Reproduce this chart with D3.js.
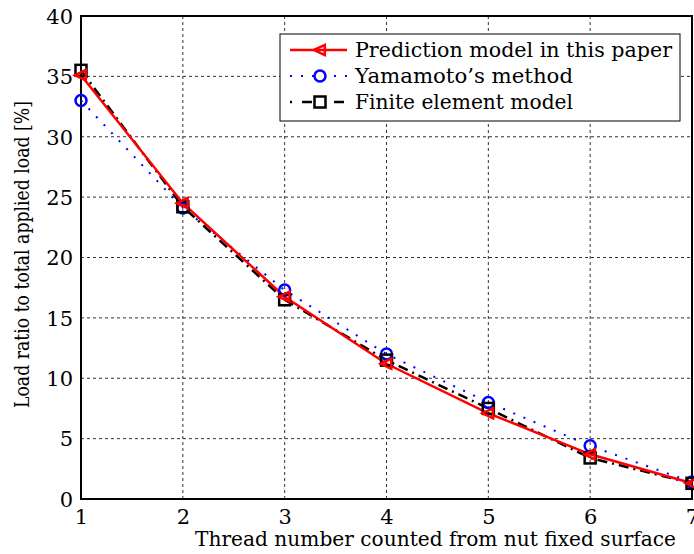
<!DOCTYPE html>
<html><head><meta charset="utf-8">
<script src="https://cdn.jsdelivr.net/npm/d3@7"></script>
<style>body{margin:0;background:#fff}svg{display:block}text{font-family:"DejaVu Serif","Liberation Serif",serif}</style>
</head><body>
<script>
const threads = [1, 2, 3, 4, 5, 6, 7];
const prediction = [35.1, 24.5, 16.75, 11.2, 7.1, 3.7, 1.3];
const yamamoto = [33.0, 24.1, 17.3, 12.0, 8.0, 4.4, 1.4];
const finiteElement = [35.5, 24.2, 16.5, 11.5, 7.5, 3.4, 1.3];
const xTicks = [1, 2, 3, 4, 5, 6, 7];
const yTicks = [0, 5, 10, 15, 20, 25, 30, 35, 40];
const seriesNames = ["Prediction model in this paper", "Yamamoto\u2019s method", "Finite element model"];

const W = 694, H = 554;
const L = 81, R = 692, T = 16, B = 499;
const svg = d3.select("body").append("svg").attr("width", W).attr("height", H);
const x = d3.scaleLinear().domain([1, 7]).range([L, R]);
const y = d3.scaleLinear().domain([0, 40]).range([B, T]);

function fitLen(sel, target) {
  sel.attr("textLength", target).attr("lengthAdjust", "spacingAndGlyphs");
}

// grid
const g = svg.append("g");
g.selectAll(".gx").data(xTicks.slice(1, -1)).join("line")
  .attr("x1", d => x(d)).attr("x2", d => x(d)).attr("y1", T).attr("y2", B)
  .attr("stroke", "#333").attr("stroke-width", 1).attr("stroke-dasharray", "3,3");
g.selectAll(".gy").data(yTicks.slice(1, -1)).join("line")
  .attr("y1", d => y(d)).attr("y2", d => y(d)).attr("x1", L).attr("x2", R)
  .attr("stroke", "#333").attr("stroke-width", 1).attr("stroke-dasharray", "3,3");

// axes via d3
const xAxis = svg.append("g").attr("transform", `translate(0,${B})`)
  .call(d3.axisBottom(x).tickValues(xTicks).tickSize(0).tickPadding(10).tickFormat(d3.format("d")));
const yAxis = svg.append("g").attr("transform", `translate(${L},0)`)
  .call(d3.axisLeft(y).tickValues(yTicks).tickSize(0).tickPadding(8).tickFormat(d3.format("d")));
[xAxis, yAxis].forEach(a => {
  a.attr("font-family", null);
  a.select(".domain").remove();
  a.selectAll("text").attr("font-size", 21).attr("fill", "#000");
});
yAxis.selectAll("text").attr("dy", "0.35em");
xAxis.selectAll("text").attr("dy", "0.71em");

// frame
svg.append("rect").attr("x", L).attr("y", T).attr("width", R - L).attr("height", B - T)
  .attr("fill", "none").attr("stroke", "#000").attr("stroke-width", 2);

// lines
const line = d3.line().x((d, i) => x(threads[i])).y(d => y(d));
const lines = svg.append("g");
lines.append("path").datum(yamamoto).attr("d", line).attr("fill", "none")
  .attr("stroke", "#0000ff").attr("stroke-width", 2).attr("stroke-dasharray", "2,9");
lines.append("path").datum(finiteElement).attr("d", line).attr("fill", "none")
  .attr("stroke", "#000").attr("stroke-width", 2.5).attr("stroke-dasharray", "10,5,2,5");
lines.append("path").datum(prediction).attr("d", line).attr("fill", "none")
  .attr("stroke", "#ff0000").attr("stroke-width", 2.5);

function tri(s, cx, cy, r) {
  return s.append("path").attr("d", `M${cx - r},${cy} L${cx + r * 0.8},${cy - r * 0.85} L${cx + r * 0.8},${cy + r * 0.85} Z`)
    .attr("fill", "none").attr("stroke", "#ff0000").attr("stroke-width", 2.5);
}
function circ(s, cx, cy, r) {
  return s.append("circle").attr("cx", cx).attr("cy", cy).attr("r", r)
    .attr("fill", "none").attr("stroke", "#0000ff").attr("stroke-width", 2.5);
}
function sq(s, cx, cy, r) {
  return s.append("rect").attr("x", cx - r).attr("y", cy - r).attr("width", 2 * r).attr("height", 2 * r)
    .attr("fill", "none").attr("stroke", "#000").attr("stroke-width", 2.5);
}
const marks = svg.append("g");
yamamoto.forEach((v, i) => circ(marks, x(threads[i]), y(v), 5.5));
finiteElement.forEach((v, i) => sq(marks, x(threads[i]), y(v), 5.5));
prediction.forEach((v, i) => tri(marks, x(threads[i]), y(v), 6));

// legend
const lg = svg.append("g");
lg.append("rect").attr("x", 280).attr("y", 34).attr("width", 400).attr("height", 87)
  .attr("fill", "#fff").attr("stroke", "#000").attr("stroke-width", 1);
const rows = [50, 76, 102];
lg.append("line").attr("x1", 290).attr("x2", 347).attr("y1", rows[0]).attr("y2", rows[0])
  .attr("stroke", "#ff0000").attr("stroke-width", 2.5);
tri(lg, 320, rows[0], 6);
lg.append("line").attr("x1", 290).attr("x2", 347).attr("y1", rows[1]).attr("y2", rows[1])
  .attr("stroke", "#0000ff").attr("stroke-width", 2).attr("stroke-dasharray", "2,9");
circ(lg, 320, rows[1], 5.5).attr("fill", "#fff");
lg.append("line").attr("x1", 290).attr("x2", 347).attr("y1", rows[2]).attr("y2", rows[2])
  .attr("stroke", "#000").attr("stroke-width", 2.5).attr("stroke-dasharray", "2,10,10,10");
sq(lg, 320, rows[2], 5.5).attr("fill", "#fff");
const legW = [317, 218, 218];
seriesNames.forEach((n, i) => {
  const t = lg.append("text").attr("x", 355).attr("y", rows[i]).attr("dy", "0.33em")
    .attr("font-size", 21).attr("fill", "#000").text(n);
  fitLen(t, legW[i]);
});

// axis labels
const xl = svg.append("text").attr("x", 195).attr("y", 546)
  .attr("font-size", 21).attr("fill", "#000").text("Thread number counted from nut fixed surface");
fitLen(xl, 481);
const yl = svg.append("text").attr("transform", `translate(29,408) rotate(-90)`)
  .attr("font-size", 21).attr("fill", "#000").text("Load ratio to total applied load [%]");
fitLen(yl, 307);
</script>
</body></html>
